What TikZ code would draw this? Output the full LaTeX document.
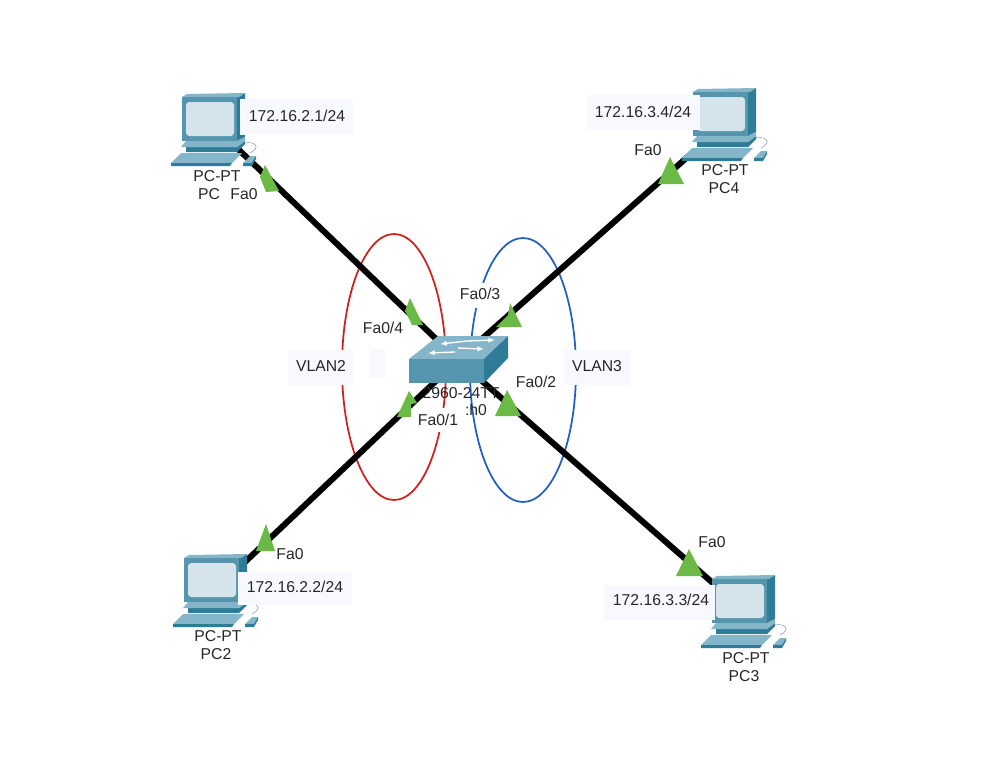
\documentclass[tikz,border=0pt]{standalone}
\usepackage{fontspec}
\setmainfont{Liberation Sans}
\usetikzlibrary{arrows.meta}
\definecolor{mfront}{HTML}{5596AE}
\definecolor{mtop}{HTML}{85B5C8}
\definecolor{mside}{HTML}{2E7C97}
\definecolor{mscreen}{HTML}{D5E3EA}
\definecolor{tri}{HTML}{6CBA46}
\definecolor{boxc}{HTML}{F8F9FE}
\definecolor{vred}{HTML}{D0201C}
\definecolor{vblue}{HTML}{1F5FC4}
\tikzset{
  x=0.75pt,y=-0.75pt,
  lnk/.style={line width=4.5pt,black},
  vlan/.style={line width=1.3pt},
  lbl/.style={font=\fontsize{11.8pt}{13pt}\selectfont,text=black!85,inner sep=0pt},
  lblbox/.style={fill=boxc,draw=none},
  port/.style={fill=tri,draw=none},
  swarrow/.style={white,line width=1pt,-{Latex[length=5pt,width=4pt]}},
  pcbody/.pic={
    \fill[mside] (55,0) -- (63,-4) -- (63,40) -- (55,44) -- cycle;
    \fill[mtop] (0,0) -- (5,-3) -- (63,-4) -- (57,0) -- cycle;
    \fill[mfront] (0,0) rectangle (55,44);
    \fill[mscreen,rounded corners=2.5pt] (4,5) rectangle (52,39);
    \fill[mside] (4,50) -- (55,50) -- (63,44) -- (63,47) -- (55,55) -- (4,55) -- cycle;
    \fill[mtop] (-1,50) -- (4,44) -- (55,44) -- (63,40) -- (63,44) -- (55,50) -- cycle;
    \fill[mtop] (-11,66) -- (-1,56) -- (60,56) -- (50,66) -- cycle;
    \fill[mside] (-11,66) -- (50,66) -- (48,69) -- (-11,69) -- cycle;
    \draw[black!40,line width=.4pt] (63,46) .. controls (72,44) and (80,50) .. (68,56);
    \fill[mtop] (61,66) -- (68,59) -- (74,59) -- (70,66) -- cycle;
    \fill[mside] (61,66) -- (70,66) -- (74,59) -- (74,62) -- (70,69) -- (61,69) -- cycle;
  }
}
\begin{document}
\begin{tikzpicture}
\useasboundingbox (0,0) rectangle (991,760);
\fill[white] (0,0) rectangle (991,760);
% anchors
\coordinate (sw) at (458,360);
\coordinate (pc1) at (182,97);
\coordinate (pc4) at (693,92);
\coordinate (pc2) at (184,558);
\coordinate (pc3) at (712,579);
\coordinate (pc1port) at (238,149);
\coordinate (pc4port) at (692,153);
\coordinate (pc2port) at (245,562);
\coordinate (pc3port) at (714,584);
% vlan ellipses
\draw[vred,vlan] (394,367) ellipse [x radius=52,y radius=133];
\draw[vblue,vlan] (523,370) ellipse [x radius=53,y radius=132];
% label boxes
\fill[lblbox] (288,350) rectangle (354,385);
\fill[lblbox] (370,349) rectangle (386,378);
\fill[lblbox] (564,350) rectangle (630,385);
\fill[white] (456,283) rectangle (506,308);
\fill[white] (358,316) rectangle (408,341);
\fill[white] (414,408) rectangle (464,432);
\fill[white] (512,370) rectangle (562,395);
% links
\draw[lnk] (pc1port) -- (sw);
\draw[lnk] (pc4port) -- (sw);
\draw[lnk] (pc2port) -- (sw);
\draw[lnk] (pc3port) -- (sw);
% PCs
\pic at (pc1) {pcbody};
\pic at (pc4) {pcbody};
\pic at (pc2) {pcbody};
\pic at (pc3) {pcbody};
% switch
\fill[mtop] (409,359) -- (438,336) -- (508,336) -- (484,359) -- cycle;
\fill[mfront] (409,359) rectangle (484,383);
\fill[mside] (484,359) -- (508,336) -- (508,358) -- (484,383) -- cycle;
\draw[swarrow] (467,341) -- (495,340);
\draw[swarrow] (467,341) -- (440,344);
\draw[swarrow] (458,348) -- (484,349);
\draw[swarrow] (455,352) -- (428,353);
% port triangles
\fill[port] (265,165) -- (279,191) -- (266,192) -- (260,177) -- cycle;
\fill[port] (410,298) -- (423,325) -- (412,325) -- (405,311) -- cycle;
\fill[port] (510,303) -- (522,327) -- (496,327) -- (508,315) -- cycle;
\fill[port] (409,391) -- (417,403) -- (411,404) -- (411,417) -- (397,417) -- cycle;
\fill[port] (507,390) -- (521,416) -- (495,416) -- cycle;
\fill[port] (670,157) -- (684,184) -- (658,184) -- cycle;
\fill[port] (689,549) -- (703,576) -- (676,576) -- cycle;
\fill[port] (266,524) -- (275,551) -- (256,551) -- cycle;
% ip boxes
\fill[lblbox] (240,99) rectangle (353,135);
\fill[lblbox] (587,95) rectangle (700,130);
\fill[lblbox] (238,572) rectangle (352,605);
\fill[lblbox] (604,585) rectangle (715,620);
% labels
\node[lbl] (ip1) at (297,116) {172.16.2.1/24};
\node[lbl] (ip4) at (643,112) {172.16.3.4/24};
\node[lbl] (ip2) at (295,587) {172.16.2.2/24};
\node[lbl] (ip3) at (661,600) {172.16.3.3/24};
\node[lbl] (n1a) at (217,176) {PC-PT};
\node[lbl] (n1b) at (209,194) {PC};
\node[lbl] (f1) at (244,194) {Fa0};
\node[lbl] (n4a) at (725,170) {PC-PT};
\node[lbl] (n4b) at (724,188) {PC4};
\node[lbl] (f4) at (648,150) {Fa0};
\node[lbl] (n2a) at (218,636) {PC-PT};
\node[lbl] (n2b) at (216,654) {PC2};
\node[lbl] (f2) at (290,554) {Fa0};
\node[lbl] (n3a) at (746,658) {PC-PT};
\node[lbl] (n3b) at (744,676) {PC3};
\node[lbl] (f3) at (712,542) {Fa0};
\node[lbl] (v2) at (321,366) {VLAN2};
\node[lbl] (v3) at (597,366) {VLAN3};
\node[lbl] (p4) at (383,328) {Fa0/4};
\node[lbl] (p3) at (480,294) {Fa0/3};
\node[lbl] (p1) at (438,420) {Fa0/1};
\node[lbl] (p2) at (536,382) {Fa0/2};
\node[lbl] (swa) at (461,393) {2960-24TT};
\node[lbl] (swb) at (476,410) {:h0};
\end{tikzpicture}
\end{document}
